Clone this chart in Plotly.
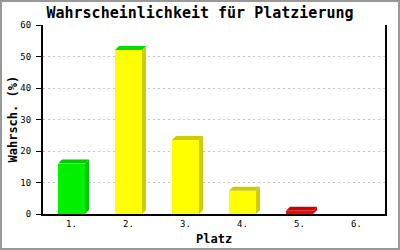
import plotly.graph_objects as go

# ---- data ----
places = ["1.", "2.", "3.", "4.", "5.", "6."]
values = [16.0, 52.1, 23.5, 7.4, 1.0, 0.0]
front_colors = ["#00f000", "#ffff00", "#ffff00", "#ffff00", "#ff0000", "#ff0000"]
side_colors = ["#00c800", "#cccc00", "#cccc00", "#cccc00", "#cc0000", "#cc0000"]
top_colors = ["#00c800", "#00dd00", "#cccc00", "#cccc00", "#cc0000", "#cc0000"]
y_ticks = [0, 10, 20, 30, 40, 50, 60]

# ---- geometry (figure pixels) ----
W, H = 400, 250
ML, MR, MT, MB = 43, 15, 25, 36
pw, ph = W - ML - MR, H - MT - MB
xs = list(range(1, len(places) + 1))
bw = 0.474
dx = 4 * len(places) / pw      # 4px depth in x units
dy = 4 * 60 / ph               # 4px depth in y units

fig = go.Figure()
mono = "DejaVu Sans Mono"

# 3D side and top faces computed from the values
for x, v, sc, tc in zip(xs, values, side_colors, top_colors):
    if v <= 0:
        continue
    l, r = x - bw / 2, x + bw / 2
    fig.add_trace(go.Scatter(
        x=[r, r, r + dx, r + dx, r], y=[0, v, v + dy, dy, 0],
        mode="lines", fill="toself", fillcolor=sc, line=dict(width=0),
        hoverinfo="skip", showlegend=False))
    fig.add_trace(go.Scatter(
        x=[l, l + dx, r + dx, r, l], y=[v, v + dy, v + dy, v, v],
        mode="lines", fill="toself", fillcolor=tc, line=dict(width=0),
        hoverinfo="skip", showlegend=False))

fig.add_trace(go.Bar(
    x=xs, y=values, width=bw, marker=dict(color=front_colors, line=dict(width=0)),
    showlegend=False))

fig.update_layout(
    width=W, height=H,
    margin=dict(l=ML, r=MR, t=MT, b=MB, pad=0),
    paper_bgcolor="white", plot_bgcolor="white",
    title=dict(text="Wahrscheinlichkeit für Platzierung", x=0.5, xref="container",
               xanchor="center", y=1 - 13 / H, yref="container", yanchor="middle",
               font=dict(family=mono, size=15, color="black", weight="bold")),
    xaxis=dict(range=[0.5, 6.5], tickvals=xs, ticktext=places, showgrid=False,
               showline=True, linecolor="black", linewidth=2, ticks="",
               zeroline=False, mirror=False,
               tickfont=dict(family=mono, size=9, color="black"),
               ticklabelstandoff=0),
    yaxis=dict(range=[0, 60], tickvals=y_ticks, showgrid=True, gridcolor="#c4c4c4",
               griddash="2px,3px", gridwidth=1, showline=True, linecolor="black",
               linewidth=2, mirror=True, ticks="outside", ticklen=5, tickcolor="black",
               tickwidth=1, zeroline=False,
               tickfont=dict(family=mono, size=9, color="black"),
               ticklabelstandoff=3),
    bargap=0,
    annotations=[
        dict(text="Platz", xref="paper", yref="paper", x=0.5, y=-(239 - MT - ph) / ph,
             xanchor="center", yanchor="middle", showarrow=False,
             font=dict(family=mono, size=12, color="black", weight="bold")),
        dict(text="Wahrsch. (%)", xref="paper", yref="paper", x=-(ML - 12) / pw, y=0.5,
             xanchor="center", yanchor="middle", textangle=-90, showarrow=False,
             font=dict(family=mono, size=12, color="black", weight="bold")),
    ],
    shapes=[dict(type="rect", xref="paper", yref="paper",
                 x0=-(ML - 1) / pw, x1=1 + (MR - 1) / pw,
                 y0=-(MB - 1) / ph, y1=1 + (MT - 1) / ph,
                 line=dict(color="#999999", width=2), fillcolor="rgba(0,0,0,0)",
                 layer="above")],
)

fig.write_html("out.html")
